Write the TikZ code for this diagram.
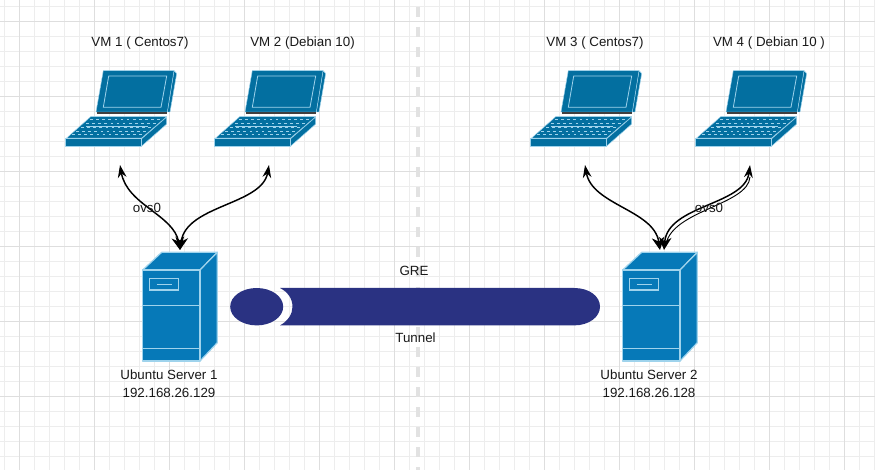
\documentclass[tikz,border=0pt]{standalone}
\usepackage{fontspec}
\setmainfont{Liberation Sans}
\usetikzlibrary{arrows.meta,calc}
\definecolor{laptopblue}{HTML}{036FA0}
\definecolor{serverblue}{HTML}{0679B8}
\definecolor{edgeblue}{HTML}{9FD3EC}
\definecolor{tunnelblue}{HTML}{2A3282}
\definecolor{gridminor}{HTML}{EDEDED}
\definecolor{gridmajor}{HTML}{DEDEDE}
\definecolor{centreline}{HTML}{E2E2E2}
\tikzset{
  label text/.style={font=\fontsize{10}{12}\selectfont,text=black!90,inner sep=0pt,align=center},
  link/.style={line width=1.1pt,black,
    {Stealth[length=9.5pt,width=9.5pt]}-{Stealth[length=9.5pt,width=6.5pt]}},
  laptop face/.style={fill=laptopblue,draw=edgeblue,line width=.35pt,line join=round},
  server face/.style={fill=serverblue,draw=edgeblue,line width=.9pt,line join=round},
  server line/.style={draw=edgeblue,line width=.8pt},
}
\newcommand{\laptopicon}[2]{%
  \begin{scope}[shift={(#1,0)}]
    \path[laptop face] (167.3,112) -- (174,70.7) -- (176.7,73.5) -- (170,112) -- cycle;
    \path[laptop face] (96,112) -- (103.3,70.7) -- (174,70.7) -- (167.3,112) -- cycle;
    \draw[edgeblue,line width=.6pt] (103.3,107.3) -- (161,107.3) -- (166.7,76) -- (108.7,76) -- cycle;
    \draw[black!75,line width=.9pt] (96.7,113) -- (167.3,113);
    \path[laptop face] (66.7,138) -- (141.7,138) -- (166.7,116.7) -- (90.7,116.7) -- cycle;
    \foreach \yy/\xa/\xb in {119/90/162,123/86/158,127/81/153,131/76/148,134/72/144}
      \draw[edgeblue,line width=.4pt,dash pattern=on 2pt off 2.6pt] (\xa,\yy) -- (\xb,\yy);
    \draw[edgeblue,line width=.5pt] (86,126.5) -- (148,126.5);
    \path[laptop face] (141.7,138.7) -- (166.7,117) -- (166.7,124) -- (141.7,146) -- cycle;
    \path[laptop face] (65,138.7) -- (141.7,138.7) -- (141.7,146) -- (65,146) -- cycle;
    \coordinate (#2) at (120,165);
  \end{scope}}
\newcommand{\servericon}[2]{%
  \begin{scope}[shift={(#1,0)}]
    \path[server face] (142.7,270) -- (161.7,252.3) -- (217.3,252.3) -- (200,270) -- cycle;
    \path[server face] (200,270) -- (217.3,252.3) -- (217.3,342.7) -- (200,361) -- cycle;
    \path[server face] (142.7,270) rectangle (200,361);
    \draw[server line] (149.3,278.3) rectangle (178.7,290);
    \draw[server line] (156.7,284.3) -- (172,284.3);
    \draw[server line] (142.7,305.7) -- (200,305.7);
    \draw[server line] (142.7,348.3) -- (200,348.3);
    \coordinate (#2) at (180,250);
  \end{scope}}
\begin{document}
\begin{tikzpicture}[x=.75pt,y=-.75pt]
\useasboundingbox (0,0) rectangle (875,470);
\fill[white] (0,0) rectangle (875,470);
% grid
\foreach \k in {0,...,58} \draw[gridminor,line width=.75pt] ({4.5+15*\k},0) -- ({4.5+15*\k},470);
\foreach \k in {0,...,31} \draw[gridminor,line width=.75pt] (0,{6.7+15*\k}) -- (875,{6.7+15*\k});
\foreach \k in {0,...,11} \draw[gridmajor,line width=.75pt] ({19.5+75*\k},0) -- ({19.5+75*\k},470);
\foreach \k in {0,...,5} \draw[gridmajor,line width=.75pt] (0,{21.7+75*\k}) -- (875,{21.7+75*\k});
% centre divider
\draw[centreline,line width=2.4pt,dash pattern=on 7.5pt off 7.5pt] (418,7) -- (418,470);
% icons
\laptopicon{0}{vma}
\laptopicon{149}{vmb}
\laptopicon{465}{vmc}
\laptopicon{630}{vmd}
\servericon{0}{srva}
\servericon{480}{srvb}
% tunnel
\fill[tunnelblue] (256.7,306.7) ellipse [x radius=26.5,y radius=18.7];
\fill[tunnelblue] (280,288) .. controls (288,292) and (292.5,299) .. (292.5,306.7)
   .. controls (292.5,314) and (288,321) .. (280,325.4) -- (574,325.4)
   .. controls (589,325.4) and (600,317) .. (600,306.7)
   .. controls (600,296) and (589,288) .. (574,288) -- cycle;
% connectors
\draw[link] (srva) .. controls (174,215) and (127,205) .. (vma);
\draw[link] (srva) .. controls (186,205) and (262,205) .. (vmb);
\draw[link] (srvb) .. controls (654,210) and (592,205) .. (vmc);
\draw[link] ($(srvb)+(4,0)$) .. controls (668,205) and (745,205) .. (vmd);
\draw[line width=.7pt,black] ($(srvb)+(6,-6)$) .. controls (673,210) and (748,205) .. ($(vmd)+(0,12)$);
% labels
\node[label text] (t1) at (140,43) {VM 1 ( Centos7)};
\node[label text] (t2) at (302.5,43) {VM 2 (Debian 10)};
\node[label text] (t3) at (595,43) {VM 3 ( Centos7)};
\node[label text] (t4) at (769,43) {VM 4 ( Debian 10 )};
\node[label text] (o1) at (147,207.5) {ovs0};
\node[label text] (o2) at (709,207.5) {ovs0};
\node[label text] (gre) at (414,271) {GRE};
\node[label text] (tun) at (415.5,338) {Tunnel};
\node[label text] (s1) at (169,375) {Ubuntu Server 1};
\node[label text] (i1) at (169,392.5) {192.168.26.129};
\node[label text] (s2) at (649,375) {Ubuntu Server 2};
\node[label text] (i2) at (649,392.5) {192.168.26.128};
\end{tikzpicture}
\end{document}
